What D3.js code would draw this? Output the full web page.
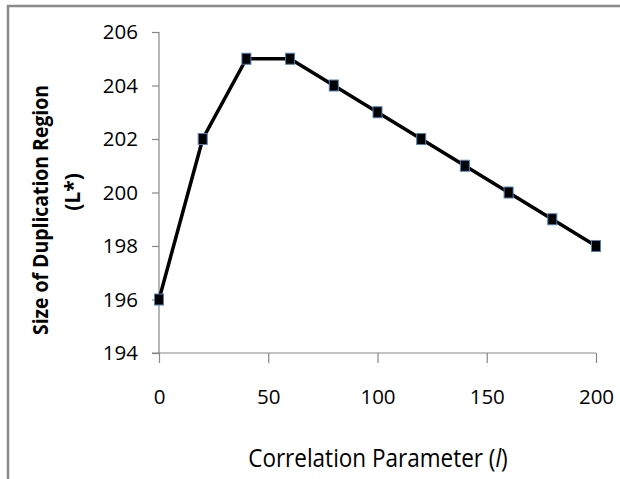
<!DOCTYPE html>
<html><head><meta charset="utf-8">
<script src="https://cdn.jsdelivr.net/npm/d3@7"></script>
<style>
html,body{margin:0;padding:0;background:#fff;}
svg{display:block;}
text{font-family:"Open Sans",sans-serif;fill:#000;}
</style></head>
<body>
<svg id="c" width="620" height="479"></svg>
<script>
const xValues = [0, 20, 40, 60, 80, 100, 120, 140, 160, 180, 200];
const yValues = [196, 202, 205, 205, 204, 203, 202, 201, 200, 199, 198];
const xTicks = [0, 50, 100, 150, 200];
const yTicks = [194, 196, 198, 200, 202, 204, 206];
const xTitle = "Correlation Parameter (";
const xTitleItalic = "l";
const yTitle1 = "Size of Duplication Region";
const yTitle2 = "(L*)";

const svg = d3.select("#c");
// outer frame (left and top only visible)
svg.append("path").attr("d","M8,479V6H620").attr("fill","none").attr("stroke","#8a8a8a").attr("stroke-width",2.5);

const x = d3.scaleLinear().domain([0,200]).range([159,596]);
const y = d3.scaleLinear().domain([194,206]).range([353,32]);

const yAxis = svg.append("g").attr("transform","translate(159,0)")
  .call(d3.axisLeft(y).tickValues(yTicks).tickSize(7).tickPadding(14).tickFormat(d3.format("d")));
const xAxis = svg.append("g").attr("transform","translate(0,353)")
  .call(d3.axisBottom(x).tickValues(xTicks).tickSize(10).tickPadding(26).tickFormat(d3.format("d")));
[yAxis,xAxis].forEach(g=>{
  g.select(".domain").attr("stroke","#888").attr("stroke-width",1.2);
  g.selectAll(".tick line").attr("stroke","#888").attr("stroke-width",1.2);
  g.selectAll(".tick text").style("font-family",'"Open Sans",sans-serif').style("font-size","20.5px").attr("fill","#000");
});
xAxis.select(".domain").attr("d","M152,0H596");
yAxis.select(".domain").attr("d","M0,32V353");

const line = d3.line().x((d,i)=>x(xValues[i])).y(d=>y(d));
svg.append("path").datum(yValues).attr("d",line).attr("fill","none").attr("stroke","#000").attr("stroke-width",3.5);

svg.selectAll("rect.m").data(yValues).enter().append("rect").attr("class","m")
  .attr("x",(d,i)=>x(xValues[i])-4.5).attr("y",d=>y(d)-5.5)
  .attr("width",9).attr("height",11).attr("fill","#000").attr("stroke","#4f81bd").attr("stroke-width",1);

// x title
const xt = svg.append("text").attr("transform","translate(378,467) scale(1,1.1)").attr("text-anchor","middle").style("font-size","22.5px");
xt.append("tspan").text(xTitle);
xt.append("tspan").style("font-style","italic").text(xTitleItalic);
xt.append("tspan").text(")");

// y title
svg.append("text").attr("transform","translate(48,210) rotate(-90)").attr("text-anchor","middle")
  .style("font-size","21px").style("font-weight","bold")
  .attr("textLength",250).attr("lengthAdjust","spacingAndGlyphs").text(yTitle1);
svg.append("text").attr("transform","translate(80,192) rotate(-90)").attr("text-anchor","middle")
  .style("font-size","21px").style("font-weight","bold").text(yTitle2);
</script>
</body></html>
